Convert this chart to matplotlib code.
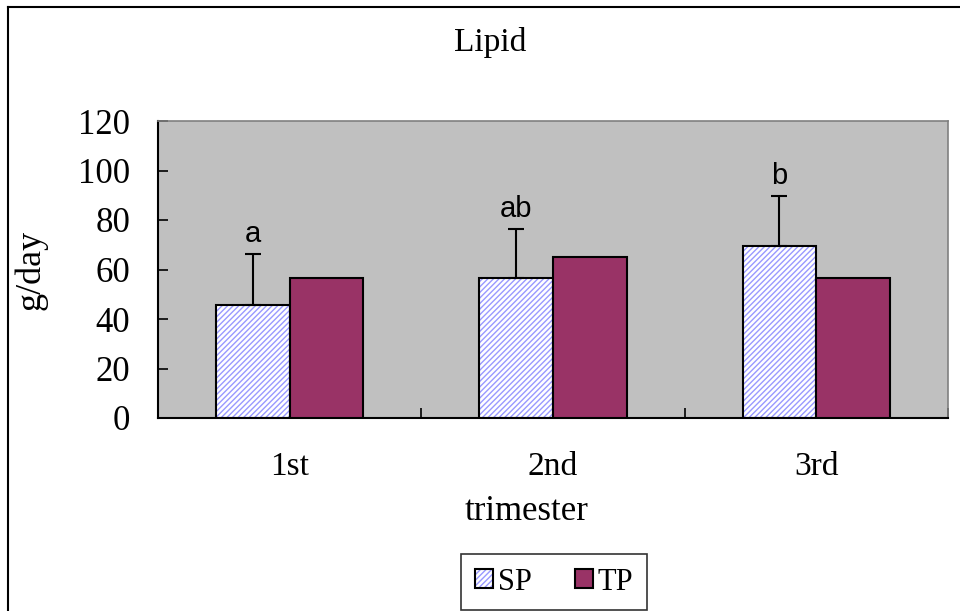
import matplotlib
matplotlib.use('Agg')
import matplotlib.pyplot as plt
from matplotlib.lines import Line2D
import numpy as np

# data
trimesters = ['1st', '2nd', '3rd']
sp_values = [45.7, 56.7, 69.3]
sp_errors = [20.4, 19.5, 20.5]
tp_values = [56.7, 65.2, 56.7]
letters = ['a', 'ab', 'b']

serif = ['Liberation Serif', 'DejaVu Serif']
plt.rcParams['font.family'] = serif
plt.rcParams['hatch.linewidth'] = 1.0

W, H = 960, 611
fig = plt.figure(figsize=(W / 100, H / 100), dpi=100)
fig.patch.set_facecolor('white')

# plot area (pixels from reference)
left, right, top, bottom = 158, 948, 121, 418
ax = fig.add_axes([left / W, 1 - bottom / H, (right - left) / W, (bottom - top) / H])
ax.set_facecolor('#C0C0C0')

x = np.arange(len(trimesters))
w = 0.28

# SP: white bars with blue diagonal hatch, then black outline on top
ax.bar(x - w / 2, sp_values, w, color='white', edgecolor='#9999FF',
       hatch='//////', linewidth=0, zorder=2)
ax.bar(x - w / 2, sp_values, w, facecolor='none', edgecolor='black',
       linewidth=1.5, zorder=3)
ax.bar(x + w / 2, tp_values, w, color='#993366', edgecolor='black',
       linewidth=1.5, zorder=3)

# upper error bars only
ax.errorbar(x - w / 2, sp_values, yerr=[np.zeros(3), sp_errors], fmt='none',
            ecolor='black', elinewidth=1.5, capsize=5.5, capthick=1.5, zorder=4)

for xi, v, e, t in zip(x, sp_values, sp_errors, letters):
    ax.text(xi - w / 2, v + e + 2.5, t, ha='center', va='bottom',
            fontsize=21, family=['Liberation Sans', 'DejaVu Sans'], zorder=5)

ax.set_xlim(-0.5, 2.5)
ax.set_ylim(0, 120)
ax.set_yticks(np.arange(0, 121, 20))
ax.tick_params(axis='y', direction='in', length=7, width=1.2, pad=20,
               labelsize=25)
ax.set_xticks(x)
ax.set_xticklabels(trimesters)
ax.set_xticks(np.arange(-0.5, 2.6, 1), minor=True)
ax.tick_params(axis='x', which='major', length=0, pad=24, labelsize=24)
ax.tick_params(axis='x', which='minor', direction='in', length=7, width=1.2)

for s in ['top', 'right']:
    ax.spines[s].set_color('#808080')
    ax.spines[s].set_linewidth(1.2)
for s in ['left', 'bottom']:
    ax.spines[s].set_color('black')
    ax.spines[s].set_linewidth(1.5)

ax.set_ylabel('g/day', fontsize=26, labelpad=22)

fig.text(490 / W, 1 - 43 / H, 'Lipid', ha='center', va='center', fontsize=24)
fig.text(527 / W, 1 - 512 / H, 'trimester', ha='center', va='center', fontsize=25)

# legend
sp_handle = (plt.Rectangle((0, 0), 1, 1, facecolor='white', edgecolor='#9999FF',
                           hatch='//////', linewidth=0),
             plt.Rectangle((0, 0), 1, 1, facecolor='none', edgecolor='black',
                           linewidth=1.5))
tp_handle = plt.Rectangle((0, 0), 1, 1, facecolor='#993366', edgecolor='black',
                          linewidth=1.5)
leg = fig.legend([sp_handle, tp_handle], ['SP', 'TP'], ncol=2,
                 loc='center', bbox_to_anchor=(554 / W, 1 - 582 / H),
                 fontsize=22, frameon=True, fancybox=False,
                 handlelength=0.6, handleheight=0.6, handletextpad=0.15,
                 columnspacing=1.4, borderpad=0.45)
leg.get_frame().set_edgecolor('black')
leg.get_frame().set_linewidth(1.2)

# outer chart border (left and top visible)
fig.add_artist(Line2D([7.5 / W, 7.5 / W], [0, 1 - 6.5 / H], color='black', lw=1.5))
fig.add_artist(Line2D([7.5 / W, 1], [1 - 6.5 / H, 1 - 6.5 / H], color='black', lw=1.5))

fig.savefig('out.png', dpi=100)
